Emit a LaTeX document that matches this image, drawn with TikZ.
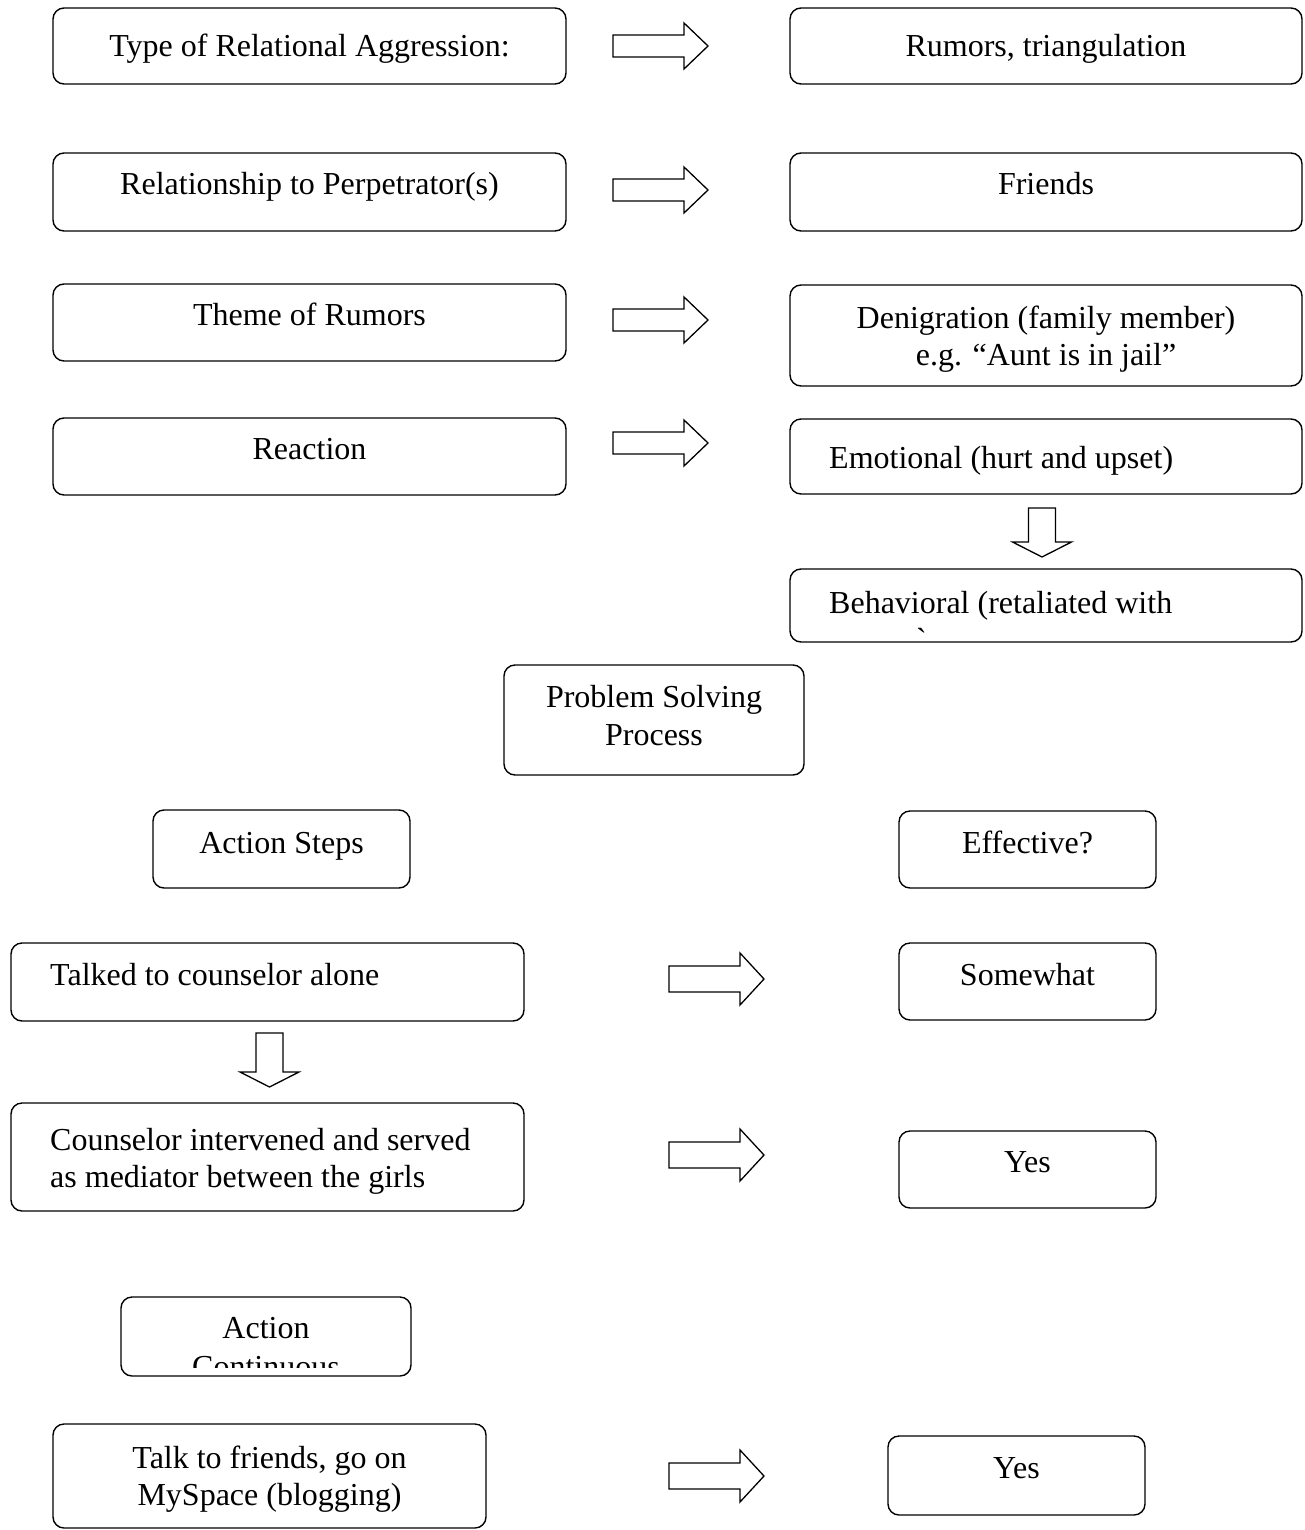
\documentclass[tikz,border=0pt]{standalone}
\usepackage{fontspec}
\setmainfont{Liberation Serif}
\newfontfamily\rawserif{Liberation Serif}[Ligatures=TeXOff]
\newcommand\bx[5]{\node[box,minimum width={#4-#2},minimum height={#5-#3}] (#1) at ({(#2+#4)/2},{(#3+#5)/2}) {};}
% right block arrow: left x, centre y, shaft half, head half
\newcommand\rarr[4]{\draw[blk] (#1,{#2-#3}) -- ({#1+71},{#2-#3}) -- ({#1+71},{#2-#4}) -- ({#1+95},#2) -- ({#1+71},{#2+#4}) -- ({#1+71},{#2+#3}) -- (#1,{#2+#3}) -- cycle;}
% down block arrow: centre x, top y, head start y, tip y
\newcommand\darr[4]{\draw[blk] ({#1-13.5},#2) -- ({#1+13.5},#2) -- ({#1+13.5},#3) -- ({#1+29.5},#3) -- (#1,#4) -- ({#1-29.5},#3) -- ({#1-13.5},#3) -- cycle;}
\begin{document}
\begin{tikzpicture}[x=1pt,y=-1pt,
  box/.style={draw,line width=1.4pt,rounded corners=11pt,inner sep=0pt,outer sep=0pt},
  blk/.style={draw,line width=1.3pt,line join=miter},
  txt/.style={anchor=base,inner sep=0pt,font=\fontsize{32}{37}\selectfont},
  ltxt/.style={txt,anchor=base west}]
\useasboundingbox (0,0) rectangle (1305,1530);
% top section
\bx{b1}{53}{8}{566}{84}
\bx{c1}{790}{8}{1302}{84}
\bx{b2}{53}{153}{566}{231}
\bx{c2}{790}{153}{1302}{231}
\bx{b3}{53}{284}{566}{361}
\bx{c3}{790}{285}{1302}{386}
\bx{b4}{53}{418}{566}{495}
\bx{c4}{790}{419}{1302}{494}
\bx{c5}{790}{569}{1302}{642}
\node[txt] (tb1) at (309.5,57) {Type of Relational Aggression:};
\node[txt] (tc1) at (1046,57) {Rumors, triangulation};
\node[txt] (tb2) at (309.5,195) {Relationship to Perpetrator(s)};
\node[txt] (tc2) at (1046,195) {Friends};
\node[txt] (tb3) at (309.5,325) {Theme of Rumors};
\node[txt] (tc3a) at (1046,328) {Denigration (family member)};
\node[txt] (tc3b) at (1046,365) {e.g. “Aunt is in jail”};
\node[txt] (tb4) at (309.5,459) {Reaction};
\node[ltxt] (tc4) at (829,468) {Emotional (hurt and upset)};
\begin{scope}
  \clip (790,569) rectangle (1302,635);
  \node[ltxt] (tc5a) at (829,613) {Behavioral (retaliated with};
  \node[ltxt] (tc5b) at (916,650) {\rawserif `};
\end{scope}
\rarr{613}{46}{11}{23}
\rarr{613}{190}{11}{23}
\rarr{613}{320}{11}{23}
\rarr{613}{443}{11}{23}
\darr{1042}{508}{542}{557}
% problem solving
\bx{ps}{504}{665}{804}{775}
\node[txt] (tps1) at (654,707) {Problem Solving};
\node[txt] (tps2) at (654,745) {Process};
\bx{as}{153}{810}{410}{888}
\node[txt] (tas) at (281.5,853) {Action Steps};
\bx{ef}{899}{811}{1156}{888}
\node[txt] (tef) at (1027.5,853) {Effective?};
\bx{tk}{11}{943}{524}{1021}
\node[ltxt] (ttk) at (50,985) {Talked to counselor alone};
\bx{sw}{899}{943}{1156}{1020}
\node[txt] (tsw) at (1027.5,985) {Somewhat};
\rarr{669}{979}{13}{26}
\darr{269.5}{1033}{1072}{1087}
\bx{co}{11}{1103}{524}{1211}
\node[ltxt] (tco1) at (50,1150) {Counselor intervened and served};
\node[ltxt] (tco2) at (50,1187) {as mediator between the girls};
\bx{y1}{899}{1131}{1156}{1208}
\node[txt] (ty1) at (1027.5,1172) {Yes};
\rarr{669}{1155}{13}{26}
% continuous
\bx{ac}{121}{1297}{411}{1376}
\node[txt] (tac1) at (266,1338) {Action};
\begin{scope}
  \clip (121,1297) rectangle (411,1367);
  \node[txt] (tac2) at (266,1377) {Continuous};
\end{scope}
\bx{tf}{53}{1424}{486}{1528}
\node[txt] (ttf1) at (269.5,1468) {Talk to friends, go on};
\node[txt] (ttf2) at (269.5,1505) {MySpace (blogging)};
\rarr{669}{1476}{13}{26}
\bx{y2}{888}{1436}{1145}{1515}
\node[txt] (ty2) at (1016.5,1478) {Yes};
\end{tikzpicture}
\end{document}
